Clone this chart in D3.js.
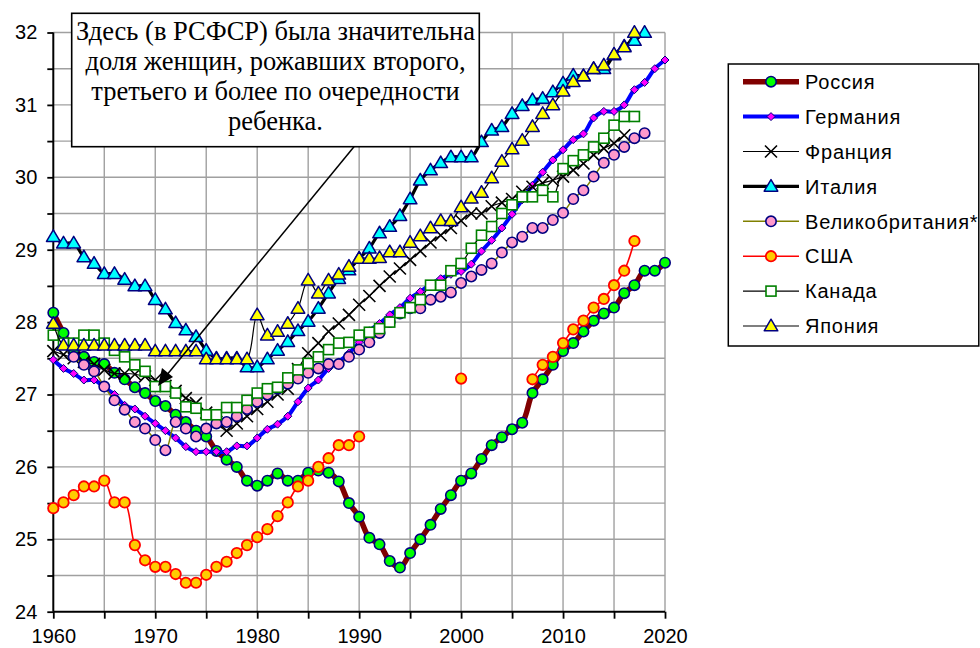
<!DOCTYPE html>
<html><head><meta charset="utf-8">
<script src="https://cdn.jsdelivr.net/npm/d3@7"></script>
<style>body{margin:0;background:#fff}svg{display:block}</style>
</head><body>
<svg id="c" width="980" height="648"></svg>
<script>
const years = d3.range(1960, 2021);
const N = null;
const russia = [28.13,27.85,27.62,27.52,27.45,27.42,27.3,27.21,27.1,27.02,26.91,26.84,26.72,26.62,26.5,26.42,26.22,26.1,26.0,25.81,25.74,25.81,25.91,25.81,25.81,25.92,25.95,25.92,25.8,25.5,25.31,25.02,24.93,24.7,24.61,24.81,25.0,25.2,25.42,25.61,25.81,25.91,26.11,26.3,26.41,26.52,26.61,27.02,27.21,27.41,27.6,27.71,27.87,28.02,28.12,28.2,28.4,28.51,28.71,28.71,28.82];
const germany = [27.48,27.36,27.29,27.2,27.2,27.1,27.0,26.85,26.8,26.7,26.6,26.5,26.4,26.28,26.21,26.21,26.21,26.21,26.29,26.29,26.4,26.52,26.59,26.7,26.9,27.09,27.2,27.36,27.45,27.57,27.72,27.88,27.98,28.1,28.2,28.33,28.42,28.52,28.6,28.66,28.7,28.8,28.98,29.13,29.3,29.49,29.69,29.89,30.07,30.24,30.38,30.52,30.6,30.82,30.91,30.91,31.0,31.21,31.31,31.5,31.62];
const france = [27.6,27.55,27.5,27.45,27.42,27.34,27.29,27.29,27.28,27.25,27.2,27.12,27.05,26.95,26.88,26.75,26.62,26.5,26.6,26.7,26.8,26.9,27.0,27.08,27.35,27.57,27.71,27.87,27.98,28.1,28.24,28.36,28.5,28.63,28.74,28.86,28.98,29.1,29.2,29.3,29.4,29.5,29.5,29.6,29.65,29.7,29.8,29.87,29.92,29.96,30.01,30.1,30.19,30.31,30.4,30.47,30.58,N,N,N,N];
const italy = [29.18,29.09,29.09,28.9,28.81,28.67,28.67,28.59,28.5,28.5,28.31,28.18,27.99,27.89,27.8,27.61,27.5,27.5,27.5,27.38,27.38,27.49,27.61,27.73,27.88,28.01,28.19,28.4,28.6,28.72,28.88,29.02,29.23,29.32,29.47,29.7,29.96,30.1,30.2,30.28,30.28,30.28,30.49,30.65,30.7,30.88,30.99,31.07,31.09,31.18,31.3,31.41,31.4,31.5,31.5,31.69,31.81,31.89,32.0,N,N];
const uk = [N,N,27.52,27.41,27.32,27.11,26.92,26.79,26.62,26.53,26.37,26.23,26.62,26.53,26.42,26.53,26.6,26.62,26.7,26.8,26.9,27.0,27.08,27.15,27.22,27.3,27.36,27.42,27.42,27.52,27.62,27.72,27.85,28.0,28.12,28.19,28.19,28.31,28.35,28.41,28.54,28.63,28.72,28.81,28.96,29.1,29.18,29.3,29.3,29.41,29.51,29.7,29.82,30.01,30.2,30.31,30.42,30.54,30.61,N,N];
const usa = [25.43,25.51,25.61,25.73,25.73,25.81,25.51,25.51,24.92,24.71,24.62,24.62,24.52,24.4,24.4,24.51,24.62,24.69,24.81,24.92,25.03,25.14,25.32,25.51,25.73,25.81,26.0,26.12,26.3,26.3,26.42,N,N,N,N,N,N,N,N,N,27.22,N,N,N,N,N,N,27.21,27.41,27.52,27.71,27.9,28.02,28.2,28.32,28.51,28.71,29.12,N,N,N];
const canada = [27.82,27.71,27.71,27.82,27.82,27.71,27.61,27.52,27.41,27.32,27.11,27.11,27.02,26.83,26.81,26.72,26.72,26.82,26.82,26.92,27.02,27.08,27.1,27.23,27.34,27.43,27.52,27.62,27.71,27.72,27.82,27.86,27.91,28.0,28.13,28.2,28.31,28.51,28.51,28.71,28.81,29.02,29.2,29.32,29.5,29.62,29.73,29.73,29.82,29.73,30.12,30.23,30.31,30.42,30.54,30.72,30.84,30.84,N,N,N];
const japan = [27.98,27.68,27.68,27.68,27.68,27.68,27.68,27.68,27.68,27.68,27.6,27.6,27.6,27.6,27.6,27.49,27.49,27.49,27.49,27.49,28.1,27.82,27.87,27.98,28.19,28.58,28.4,28.58,28.66,28.77,28.88,28.88,28.89,28.97,28.97,29.1,29.19,29.3,29.4,29.4,29.59,29.71,29.79,29.99,30.22,30.39,30.51,30.7,30.88,31.0,31.19,31.32,31.4,31.5,31.55,31.7,31.8,32.0,N,N,N];
const seriesNames = ["Россия","Германия","Франция","Италия","Великобритания*","США","Канада","Япония"];
const xTicks = [1960,1970,1980,1990,2000,2010,2020];
const yTicks = [24,25,26,27,28,29,30,31,32];
const noteLines = ["Здесь (в РСФСР) была значительна","доля женщин, рожавших второго,","третьего и более по очередности","ребенка."];

const styles = [
  {line:"#800000", lw:5.5, m:"circle", fill:"#00ff00", stroke:"#000080", sw:1.6},
  {line:"#0000ff", lw:4, m:"diamond", fill:"#ff00ff", stroke:"#000080", sw:1},
  {line:"#000000", lw:1.2, m:"x", fill:"none", stroke:"#000000", sw:1.6},
  {line:"#000000", lw:3.2, m:"tri", fill:"#00ffff", stroke:"#000080", sw:1.5},
  {line:"#808000", lw:1.5, m:"circle", fill:"#ff99cc", stroke:"#000080", sw:1.6},
  {line:"#ff0000", lw:1.6, m:"circle", fill:"#ffcc00", stroke:"#ff0000", sw:1.8},
  {line:"#000000", lw:1.2, m:"square", fill:"#ffffff", stroke:"#008000", sw:1.6},
  {line:"#000000", lw:1.2, m:"tri", fill:"#ffff00", stroke:"#000080", sw:1.5}
];
const data = [russia, germany, france, italy, uk, usa, canada, japan];

const svg = d3.select("#c");
const x = d3.scaleLinear().domain([1960,2020]).range([53.3,665]);
const y = d3.scaleLinear().domain([24,32]).range([611.7,32.5]);

// grid
const g = svg.append("g");
g.selectAll(".gy").data(d3.range(24.5,32.01,0.5)).join("line")
  .attr("x1",x(1960)).attr("x2",x(2020)).attr("y1",d=>y(d)).attr("y2",d=>y(d))
  .attr("stroke","#a0a0a0").attr("stroke-width",1.4);
g.selectAll(".gx").data(d3.range(1965,2021,5)).join("line")
  .attr("x1",d=>x(d)).attr("x2",d=>x(d)).attr("y1",y(24)).attr("y2",y(32))
  .attr("stroke","#a0a0a0").attr("stroke-width",1.4);

// axes
const yAxis = d3.axisLeft(y).tickValues(d3.range(24,32.01,0.5)).tickSize(6).tickFormat(d=> yTicks.includes(d)? d : "");
const ya = svg.append("g").attr("transform",`translate(${x(1960)},0)`).call(yAxis);
ya.select(".domain").attr("stroke","#000").attr("stroke-width",2).attr("d",`M0,${y(32)}V${y(24)}`);
ya.selectAll(".tick line").attr("stroke","#000").attr("stroke-width",1.8);
ya.selectAll(".tick text").attr("font-family","Liberation Sans, Arial, sans-serif").attr("font-size",20).attr("fill","#000").attr("x",-16);

const xAxis = d3.axisBottom(x).tickValues(d3.range(1960,2021,5)).tickSize(7).tickFormat(d=> xTicks.includes(d)? d : "");
const xa = svg.append("g").attr("transform",`translate(0,${y(24)})`).call(xAxis);
xa.select(".domain").attr("stroke","#000").attr("stroke-width",2).attr("d",`M${x(1960)},0H${x(2020)}`);
xa.selectAll(".tick line").attr("stroke","#000").attr("stroke-width",1.8);
xa.selectAll(".tick text").attr("font-family","Liberation Sans, Arial, sans-serif").attr("font-size",20).attr("fill","#000").attr("y",17);

function marker(sel, st){
  if(st.m==="circle"){
    sel.append("circle").attr("r",5.2).attr("fill",st.fill).attr("stroke",st.stroke).attr("stroke-width",st.sw);
  } else if(st.m==="diamond"){
    sel.append("path").attr("d","M0,-4L4,0L0,4L-4,0Z").attr("fill",st.fill).attr("stroke",st.stroke).attr("stroke-width",st.sw);
  } else if(st.m==="x"){
    sel.append("path").attr("d","M-6,-6L6,6M-6,6L6,-6").attr("stroke",st.stroke).attr("stroke-width",st.sw).attr("fill","none");
  } else if(st.m==="tri"){
    sel.append("path").attr("d","M0,-6.8L6.8,4.8L-6.8,4.8Z").attr("fill",st.fill).attr("stroke",st.stroke).attr("stroke-width",st.sw).attr("stroke-linejoin","round");
  } else if(st.m==="square"){
    sel.append("rect").attr("x",-5).attr("y",-5).attr("width",10).attr("height",10).attr("fill",st.fill).attr("stroke",st.stroke).attr("stroke-width",st.sw);
  }
}

const line = d3.line().defined(d=>d.v!==null).x(d=>x(d.yr)).y(d=>y(d.v)).curve(d3.curveCatmullRom.alpha(0.5));
data.forEach((arr,i)=>{
  const st = styles[i];
  const pts = years.map((yr,k)=>({yr, v: arr[k]}));
  const sg = svg.append("g");
  sg.append("path").datum(pts).attr("d",line).attr("fill","none").attr("stroke",st.line).attr("stroke-width",st.lw).attr("stroke-linejoin","round");
  sg.selectAll("g.m").data(pts.filter(d=>d.v!==null)).join("g").attr("class","m")
    .attr("transform",d=>`translate(${x(d.yr)},${y(d.v)})`).each(function(){ marker(d3.select(this), st); });
});

// annotation
const ann = svg.append("g");
ann.append("line").attr("x1",354).attr("y1",146.7).attr("x2",166).attr("y2",376).attr("stroke","#000").attr("stroke-width",1.5);
ann.append("path").attr("d","M158,386 L162,368 L173,377 Z").attr("fill","#000");
ann.append("rect").attr("x",71.7).attr("y",13.3).attr("width",407.6).attr("height",133.4).attr("fill","#fff").attr("stroke","#000").attr("stroke-width",1.6);
ann.selectAll("text").data(noteLines).join("text")
  .attr("x",275.5).attr("y",(d,i)=>39.5+i*30.2).attr("text-anchor","middle")
  .attr("font-family","Liberation Serif, Times New Roman, serif").attr("font-size",26.5).attr("fill","#000").text(d=>d);

// legend
const lg = svg.append("g");
lg.append("rect").attr("x",728.3).attr("y",64).attr("width",250.5).attr("height",282).attr("fill","#fff").attr("stroke","#000").attr("stroke-width",1.5);
seriesNames.forEach((nm,i)=>{
  const st = styles[i];
  const yy = 81.7 + i*34.9;
  lg.append("line").attr("x1",743).attr("x2",799).attr("y1",yy).attr("y2",yy).attr("stroke",st.line).attr("stroke-width",st.lw);
  const mg = lg.append("g").attr("transform",`translate(771,${yy})`);
  marker(mg, st);
  lg.append("text").attr("x",805).attr("y",yy).attr("dy","0.36em").attr("font-family","Liberation Sans, Arial, sans-serif").attr("font-size",20).attr("letter-spacing",0.8).attr("fill","#000").text(nm);
});
</script>
</body></html>
